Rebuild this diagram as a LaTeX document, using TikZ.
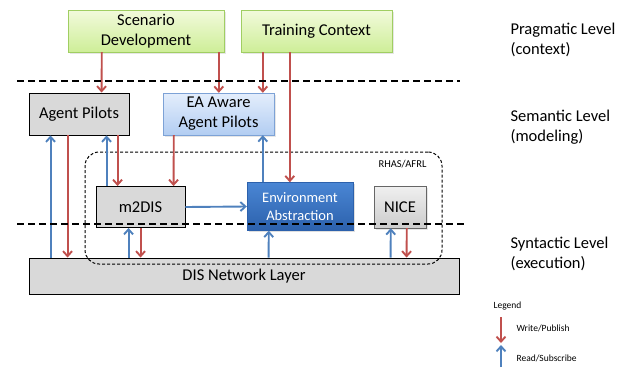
\documentclass[tikz,border=0pt]{standalone}
\usepackage{fontspec}
\setmainfont{Carlito}
\usetikzlibrary{calc, arrows.meta, shadows}

\definecolor{writered}{RGB}{192,80,77}
\definecolor{readblue}{RGB}{79,129,189}
\definecolor{ctxtop}{RGB}{242,250,220}
\definecolor{ctxbot}{RGB}{206,238,152}
\definecolor{ctxline}{RGB}{160,206,98}
\definecolor{awaretop}{RGB}{228,238,252}
\definecolor{awarebot}{RGB}{178,205,242}
\definecolor{awareline}{RGB}{125,162,214}
\definecolor{envtop}{RGB}{74,134,212}
\definecolor{envbot}{RGB}{44,97,172}
\definecolor{boxgray}{RGB}{217,217,217}

\begin{document}
\begin{tikzpicture}[x=1pt, y=-1pt, >={Straight Barb[length=5pt,width=9pt]}]
    \tikzstyle{context} = [rectangle, top color=ctxtop, bottom color=ctxbot,
        draw=ctxline, minimum height=42pt, align=center,
        drop shadow={opacity=.2, shadow xshift=1.5pt, shadow yshift=-1.5pt},
        font=\fontsize{16.5}{20}\selectfont]
    \tikzstyle{aware} = [rectangle, top color=awaretop, bottom color=awarebot,
        draw=awareline, minimum height=42pt, align=center,
        drop shadow={opacity=.2, shadow xshift=1.5pt, shadow yshift=-1.5pt},
        font=\fontsize{16.5}{20}\selectfont]
    \tikzstyle{plain} = [rectangle, fill=boxgray, draw=black, line width=.9pt,
        minimum height=42pt, font=\fontsize{16.5}{20}\selectfont]
    \tikzstyle{envbox} = [rectangle, top color=envtop, bottom color=envbot,
        draw=envbot, text=white, align=center,
        drop shadow={opacity=.25, shadow xshift=1.5pt, shadow yshift=-1.5pt},
        font=\fontsize{14.5}{18}\selectfont]
    \tikzstyle{nicebox} = [rectangle, top color=gray!12, bottom color=gray!40,
        draw=gray!80!black, drop shadow={opacity=.2, shadow xshift=1.5pt, shadow yshift=-1.5pt},
        font=\fontsize{16.5}{20}\selectfont]
    \tikzstyle{group} = [rectangle, rounded corners=14pt, draw=black, line width=1pt,
        dash pattern=on 3pt off 2pt]
    \tikzstyle{level} = [anchor=west, align=left, font=\fontsize{16.5}{20}\selectfont]
    \tikzstyle{levelline} = [line width=2.5pt, dash pattern=on 7pt off 4pt]
    \tikzstyle{writearrow} = [->, line width=1.9pt, writered]
    \tikzstyle{readarrow} = [->, line width=1.9pt, readblue]

    \useasboundingbox (0,0) rectangle (626,367);

    % Boxes ----------------------------------------------
    \node (dis) at (244, 276) [plain, minimum width=430pt, minimum height=36pt] {DIS Network Layer};
    \node (rhas) at (263.5, 208) [group, minimum width=357pt, minimum height=112pt] {};
    \node (rhaslabel) at ($(rhas.north east) + (-40, 13)$) [font=\fontsize{10.5}{12}\selectfont] {RHAS/AFRL};

    \node (scen) at (146, 31) [context, minimum width=156pt] {Scenario\\Development};
    \node (train) at (316.5, 31) [context, minimum width=151pt] {Training Context};
    \node (pilots) at (79, 114) [plain, minimum width=100pt] {Agent Pilots};
    \node (ea) at (218.5, 114) [aware, minimum width=111pt] {EA Aware\\Agent Pilots};
    \node (m2dis) at (140.5, 207) [plain, minimum width=89pt, minimum height=41pt] {m2DIS};
    \node (env) at (300, 206.5) [envbox, minimum width=106pt, minimum height=48pt] {Environment\\Abstraction};
    \node (nice) at (400, 207) [nicebox, minimum width=52pt, minimum height=42pt] {NICE};
    % ---------------------------------------------------

    % Write / publish
    \draw [writearrow] ($(scen.south west) + (34, 0)$) -- ($(pilots.north west) + (73, 0)$);
    \draw [writearrow] ($(scen.south west) + (151, 0)$) -- ($(ea.north west) + (56, 0)$);
    \draw [writearrow] ($(train.south west) + (22, 0)$) -- ($(ea.north west) + (100, 0)$);
    \draw [writearrow] ($(train.south west) + (49, 0)$) -- ($(env.north west) + (43, 0)$);
    \draw [writearrow] ($(pilots.south west) + (39, 0)$) -- ($(dis.north west) + (39, 0)$);
    \draw [writearrow] ($(pilots.south west) + (89, 0)$) -- ($(m2dis.north west) + (22, 0)$);
    \draw [writearrow] ($(ea.south west) + (11, 0)$) -- ($(m2dis.north west) + (78, 0)$);
    \draw [writearrow] ($(m2dis.south west) + (45, 0)$) -- ($(dis.north west) + (112, 0)$);
    \draw [writearrow] ($(nice.south west) + (33, 0)$) -- ($(dis.north west) + (378, 0)$);

    % Read / subscribe
    \draw [readarrow] ($(dis.north west) + (22, 0)$) -- ($(pilots.south west) + (22, 0)$);
    \draw [readarrow] ($(m2dis.north west) + (11, 0)$) -- ($(pilots.south west) + (78, 0)$);
    \draw [readarrow] ($(env.north west) + (16, 0)$) -- ($(ea.south west) + (100, 0)$);
    \draw [readarrow] (m2dis.east) -- (env.west);
    \draw [readarrow] ($(dis.north west) + (100, 0)$) -- ($(m2dis.south west) + (33, 0)$);
    \draw [readarrow] ($(dis.north west) + (240, 0)$) -- ($(env.south west) + (22, 0)$);
    \draw [readarrow] ($(dis.north west) + (362, 0)$) -- ($(nice.south west) + (17, 0)$);

    % Levels ---------------------------------------------
    \coordinate (prag_a) at (17, 81);
    \coordinate (prag_b) at (460, 81);
    \coordinate (syn_a) at (17, 224);
    \coordinate (syn_b) at (465, 224);
    \draw [levelline] (prag_a) -- (prag_b);
    \draw [levelline] (syn_a) -- (syn_b);

    \node (prag) at (507, 40) [level] {Pragmatic Level\\(context)};
    \node (sem) at (507, 127) [level] {Semantic Level\\(modeling)};
    \node (syn) at (507, 254) [level] {Syntactic Level\\(execution)};

    % Legend
    \node (legend) at (490, 306) [anchor=west, font=\fontsize{9.5}{11}\selectfont] {Legend};
    \coordinate (w_top) at (501, 317);
    \coordinate (w_bot) at (501, 343);
    \coordinate (r_bot) at (501, 367);
    \coordinate (r_top) at (501, 345);
    \draw [writearrow] (w_top) -- (w_bot);
    \draw [readarrow] (r_bot) -- (r_top);
    \node (writelabel) at ($(w_top) + (12, 11)$) [anchor=west, font=\fontsize{9.5}{11}\selectfont] {Write/Publish};
    \node (readlabel) at ($(r_top) + (12, 13)$) [anchor=west, font=\fontsize{9.5}{11}\selectfont] {Read/Subscribe};
\end{tikzpicture}
\end{document}
